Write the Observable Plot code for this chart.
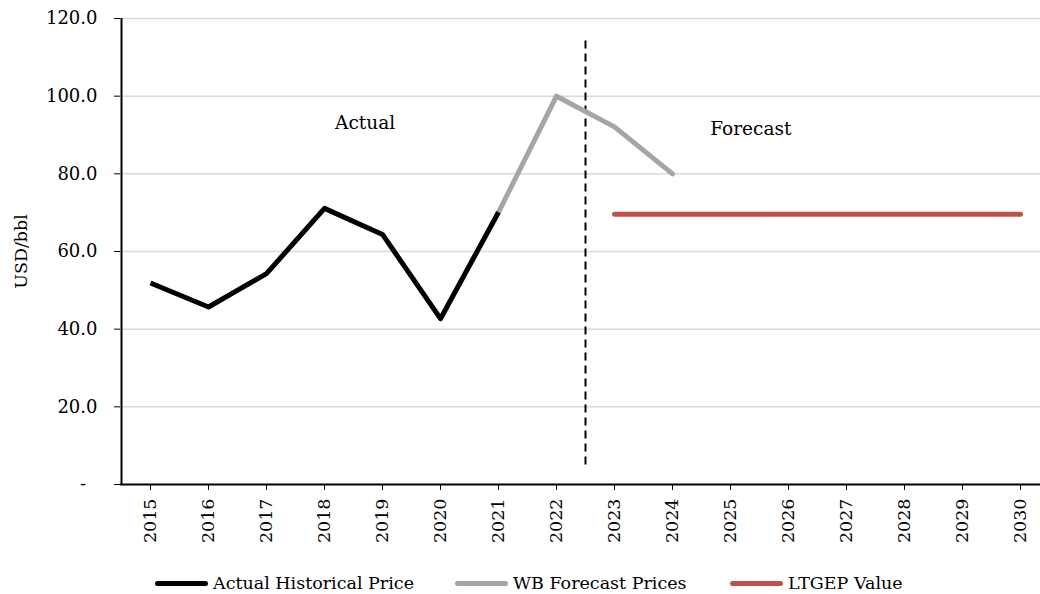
<!DOCTYPE html>
<html>
<head>
<meta charset="utf-8">
<script src="https://cdn.jsdelivr.net/npm/d3@7"></script>
<script src="https://cdn.jsdelivr.net/npm/@observablehq/plot@0.6"></script>
<style>
  html, body { margin: 0; padding: 0; background: #fff; }
  #legend { display: flex; align-items: center; height: 34px; padding-left: 155px; padding-top: 12px; box-sizing: border-box;
    font-family: "DejaVu Serif", serif; font-size: 17.5px; color: #000; line-height: 22px; }
  .item { display: flex; align-items: center; }
  .sw { width: 53px; height: 5px; border-radius: 3px; margin-right: 5px; }
</style>
</head>
<body>
<div id="chart"></div>
<div id="legend"></div>
<script>
const years = [2015, 2016, 2017, 2018, 2019, 2020, 2021, 2022, 2023, 2024, 2025, 2026, 2027, 2028, 2029, 2030];
const actualYears = [2015, 2016, 2017, 2018, 2019, 2020, 2021];
const actualPrice = [51.9, 45.7, 54.3, 71.1, 64.4, 42.7, 70.1];
const wbYears = [2021, 2022, 2023, 2024];
const wbPrice = [70.1, 100.0, 92.1, 80.0];
const ltgepYears = [2023, 2030];
const ltgepValue = 69.6;
const yTicks = [0, 20, 40, 60, 80, 100, 120];
const seriesNames = ["Actual Historical Price", "WB Forecast Prices", "LTGEP Value"];
const seriesColors = ["#000000", "#a5a5a5", "#c0504d"];
const notes = [
  {year: 2018.7, value: 93, text: "Actual"},
  {year: 2025.35, value: 91.5, text: "Forecast"}
];
const dividerYear = 2022.5;
const dividerSpan = [5, 115];

const actual = actualYears.map((y, i) => ({year: y, value: actualPrice[i]}));
const wb = wbYears.map((y, i) => ({year: y, value: wbPrice[i]}));
const ltgep = ltgepYears.map(y => ({year: y, value: ltgepValue}));

const chart = Plot.plot({
  width: 1040,
  height: 560,
  marginTop: 18,
  marginBottom: 76,
  marginLeft: 120,
  marginRight: 0,
  style: {fontFamily: "DejaVu Serif", fontSize: "18px", color: "#000", background: "#fff"},
  x: {type: "linear", domain: [2015, 2030], range: [150, 1020]},
  y: {domain: [0, 120]},
  marks: [
    Plot.ruleY(yTicks.filter(d => d > 0), {stroke: "#d9d9d9", strokeWidth: 1.5}),
    Plot.axisX({ticks: years, tickFormat: d => String(d), tickRotate: -90, tickSize: 6, tickPadding: 8, label: null, stroke: "#000", fontSize: 17.5}),
    Plot.axisY({ticks: yTicks, tickFormat: () => "", tickSize: 6, label: null, stroke: "#000"}),
    Plot.axisY({ticks: yTicks, tickFormat: d => d === 0 ? "-\u00a0\u00a0" : d.toFixed(1), tickSize: 0, tickPadding: 23,
      label: null, fontSize: 18}),
    Plot.text(["USD/bbl"], {frameAnchor: "left", textAnchor: "middle", dx: -99, rotate: -90, fontSize: 17.5}),
    Plot.ruleX([dividerYear], {y1: dividerSpan[0], y2: dividerSpan[1], stroke: "#000", strokeWidth: 2, strokeDasharray: "8,5"}),
    Plot.line(wb, {x: "year", y: "value", stroke: seriesColors[1], strokeWidth: 5, strokeLinejoin: "round", strokeLinecap: "round"}),
    Plot.line(actual, {x: "year", y: "value", stroke: seriesColors[0], strokeWidth: 5, strokeLinejoin: "round", strokeLinecap: "butt"}),
    Plot.line(ltgep, {x: "year", y: "value", stroke: seriesColors[2], strokeWidth: 5, strokeLinecap: "round"}),
    Plot.text(notes, {x: "year", y: "value", text: "text", fontSize: 18.5}),
    Plot.ruleY([0], {stroke: "#000", strokeWidth: 2}),
    Plot.ruleX([2014.5], {y1: 0, y2: 120, stroke: "#000", strokeWidth: 2})
  ]
});
document.getElementById("chart").appendChild(chart);

const legend = document.getElementById("legend");
const itemWidths = [300, 275, null];
seriesNames.forEach((name, i) => {
  const item = document.createElement("div");
  item.className = "item";
  if (itemWidths[i]) item.style.width = itemWidths[i] + "px";
  const sw = document.createElement("span");
  sw.className = "sw";
  sw.style.background = seriesColors[i];
  const t = document.createElement("span");
  t.textContent = name;
  item.appendChild(sw);
  item.appendChild(t);
  legend.appendChild(item);
});
</script>
</body>
</html>
